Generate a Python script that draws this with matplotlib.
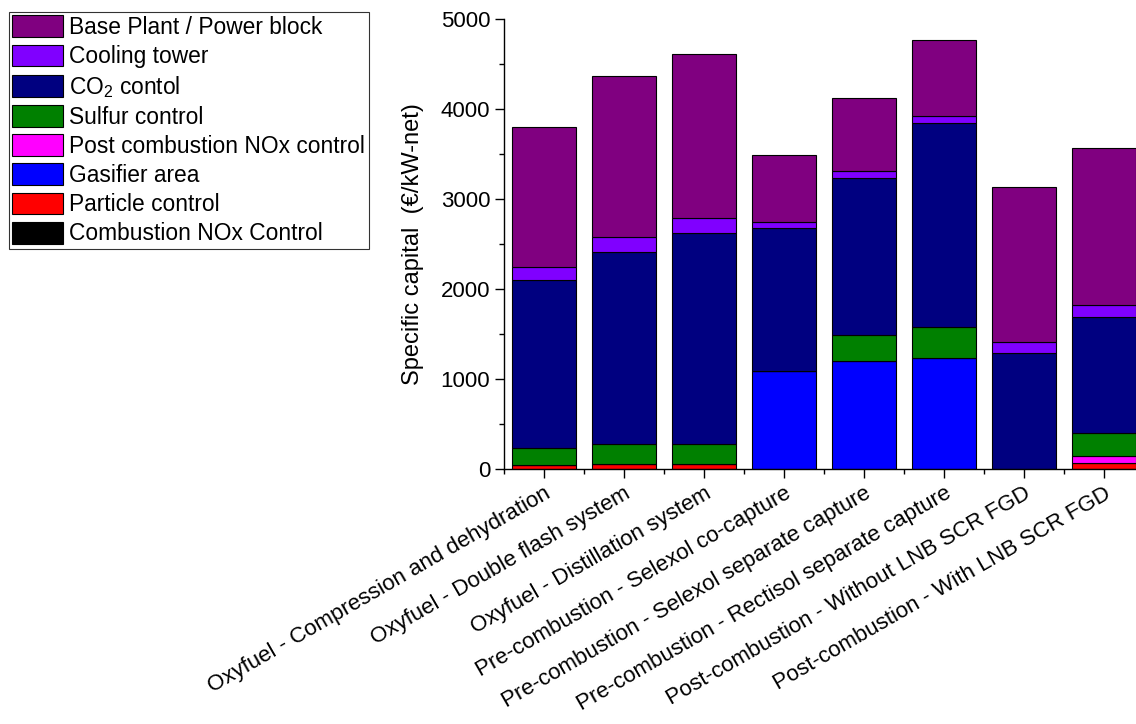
import numpy as np
import matplotlib.pyplot as plt
import matplotlib.transforms as mtransforms
from matplotlib.ticker import MultipleLocator

plt.rcParams['font.family'] = ['Liberation Sans', 'DejaVu Sans']
plt.rcParams['mathtext.default'] = 'regular'

cases = ['Oxyfuel - Compression and dehydration',
         'Oxyfuel - Double flash system',
         'Oxyfuel - Distillation system',
         'Pre-combustion - Selexol co-capture',
         'Pre-combustion - Selexol separate capture',
         'Pre-combustion - Rectisol separate capture',
         'Post-combustion - Without LNB SCR FGD',
         'Post-combustion - With LNB SCR FGD']

# stacked from bottom to top (EUR/kW-net)
comb_nox = [0, 0, 0, 0, 0, 0, 0, 0]
particle = [42, 52, 56, 0, 0, 0, 0, 63]
gasifier = [0, 0, 0, 1089, 1197, 1233, 0, 0]
post_nox = [0, 0, 0, 0, 0, 0, 0, 81]
sulfur = [195, 222, 225, 0, 288, 345, 0, 261]
co2 = [1859, 2140, 2338, 1589, 1745, 2263, 1285, 1284]
cooling = [145, 160, 166, 70, 78, 81, 129, 130]
base = [1562, 1796, 1822, 741, 814, 841, 1719, 1751]

series = [('Combustion NOx Control', comb_nox, '#000000'),
          ('Particle control', particle, '#ff0000'),
          ('Gasifier area', gasifier, '#0000ff'),
          ('Post combustion NOx control', post_nox, '#ff00ff'),
          ('Sulfur control', sulfur, '#008000'),
          ('CO$_2$ contol', co2, '#000080'),
          ('Cooling tower', cooling, '#8000ff'),
          ('Base Plant / Power block', base, '#800080')]

fig = plt.figure(figsize=(11.36, 7.24), dpi=100)
ax = fig.add_axes([504/1136, 1 - 469/724, 1 - 504/1136, 450/724])

x = np.arange(len(cases))
bottom = np.zeros(len(cases))
handles = []
for name, vals, col in series:
    vals = np.array(vals, dtype=float)
    b = ax.bar(x, vals, 0.8, bottom=bottom, color=col, edgecolor='black',
               linewidth=0.8, label=name)
    handles.append(b)
    bottom += vals

ax.set_xlim(-0.5, 7.4)
ax.set_ylim(0, 5000)
ax.spines['top'].set_visible(False)
ax.spines['right'].set_visible(False)
for s in ['left', 'bottom']:
    ax.spines[s].set_linewidth(1.0)

ax.set_xticks(x)
ax.set_xticklabels(cases, rotation=30, ha='right', va='top',
                   rotation_mode='anchor', fontsize=16)
# nudge the slanted labels a little right/down, like the original
shift = mtransforms.ScaledTranslation(0.09, -0.07, fig.dpi_scale_trans)
for lab in ax.get_xticklabels():
    lab.set_transform(lab.get_transform() + shift)
ax.xaxis.set_minor_locator(MultipleLocator(1, offset=0.5))
ax.yaxis.set_major_locator(MultipleLocator(1000))
ax.yaxis.set_minor_locator(MultipleLocator(500))
ax.tick_params(axis='both', which='major', direction='out', length=6.5, width=1.0, labelsize=16)
ax.tick_params(axis='both', which='minor', direction='out', length=3.6, width=1.0)
ax.set_ylabel('Specific capital  (€/kW-net)', fontsize=17, labelpad=12)

leg = fig.legend(handles[::-1], [s[0] for s in series[::-1]],
                 loc='upper left', bbox_to_anchor=(9/1136, 1 - 12/724),
                 fontsize=16.4, frameon=True, fancybox=False, edgecolor='black',
                 handlelength=2.2, handleheight=1.1, handletextpad=0.3,
                 labelspacing=0.24, borderpad=0.15, borderaxespad=0)
leg.get_frame().set_linewidth(0.8)

fig.savefig('out.png', dpi=100)
